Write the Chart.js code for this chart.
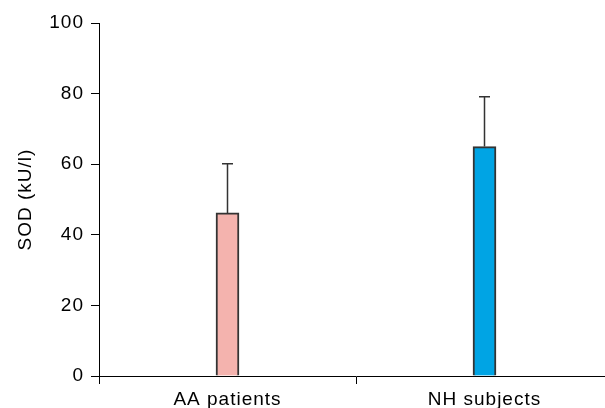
<!DOCTYPE html>
<html>
<head>
<meta charset="utf-8">
<script src="https://cdn.jsdelivr.net/npm/chart.js@4/dist/chart.umd.min.js"></script>
<style>
  html, body { margin: 0; padding: 0; background: #fff; overflow: hidden; }
  #wrap { width: 605px; height: 408px; overflow: hidden; position: relative; }
  #c { display: block; }
</style>
</head>
<body>
<div id="wrap"><canvas id="c" width="613" height="408"></canvas></div>
<script>
const categories = ['AA patients', 'NH subjects'];
const sodMean = [46.2, 65.0];
const sodErrorUp = [13.9, 14.1];
const barColors = ['#f4b3ae', '#00a4e4'];
const yAxisTitle = 'SOD (kU/l)';
const yMin = 0, yMax = 100, yStep = 20;

const FONT = "'Liberation Sans', Arial, Helvetica, sans-serif";
const SPACING = '1px';

const spacingPlugin = {
  id: 'spacing',
  beforeUpdate(chart) { chart.ctx.letterSpacing = SPACING; },
  beforeLayout(chart) { chart.ctx.letterSpacing = SPACING; },
  beforeDraw(chart) { chart.ctx.letterSpacing = SPACING; }
};

const errorBarPlugin = {
  id: 'errorBars',
  afterDatasetsDraw(chart) {
    const ctx = chart.ctx;
    const meta = chart.getDatasetMeta(0);
    const y = chart.scales.y;
    ctx.save();
    ctx.strokeStyle = '#333333';
    ctx.lineWidth = 1.5;
    meta.data.forEach((bar, i) => {
      const x = bar.x;
      const yTop = y.getPixelForValue(sodMean[i]);
      const yErr = y.getPixelForValue(sodMean[i] + sodErrorUp[i]);
      ctx.beginPath();
      ctx.moveTo(x, yTop);
      ctx.lineTo(x, yErr);
      ctx.moveTo(x - 5.5, yErr);
      ctx.lineTo(x + 5.5, yErr);
      ctx.stroke();
    });
    ctx.restore();
  }
};

new Chart(document.getElementById('c'), {
  type: 'bar',
  data: {
    labels: categories,
    datasets: [{
      data: sodMean,
      backgroundColor: barColors,
      borderColor: '#333333',
      borderWidth: 2,
      borderSkipped: 'start',
      barThickness: 23
    }]
  },
  options: {
    responsive: false,
    animation: false,
    devicePixelRatio: 1,
    layout: { padding: { top: 23, left: 0, right: 0, bottom: 0 } },
    plugins: { legend: { display: false }, tooltip: { enabled: false } },
    scales: {
      x: {
        offset: true,
        grid: { display: true, drawOnChartArea: false, drawTicks: true, tickLength: 8, offset: true, color: '#000' },
        border: { display: true, color: '#000', width: 1 },
        ticks: { color: '#000', font: { family: FONT, size: 19 }, padding: 4, maxRotation: 0 },
        afterFit(scale) { scale.height = 32; }
      },
      y: {
        min: yMin, max: yMax,
        grid: { display: true, drawOnChartArea: false, drawTicks: true, tickLength: 8, color: '#000' },
        border: { display: true, color: '#000', width: 1 },
        ticks: { stepSize: yStep, color: '#000', font: { family: FONT, size: 19 }, padding: 7 },
        title: { display: true, text: yAxisTitle, color: '#000', font: { family: FONT, size: 19 }, padding: { top: 14, bottom: 0 } },
        afterFit(scale) { scale.width = 99; }
      }
    }
  },
  plugins: [spacingPlugin, errorBarPlugin]
});
</script>
</body>
</html>
